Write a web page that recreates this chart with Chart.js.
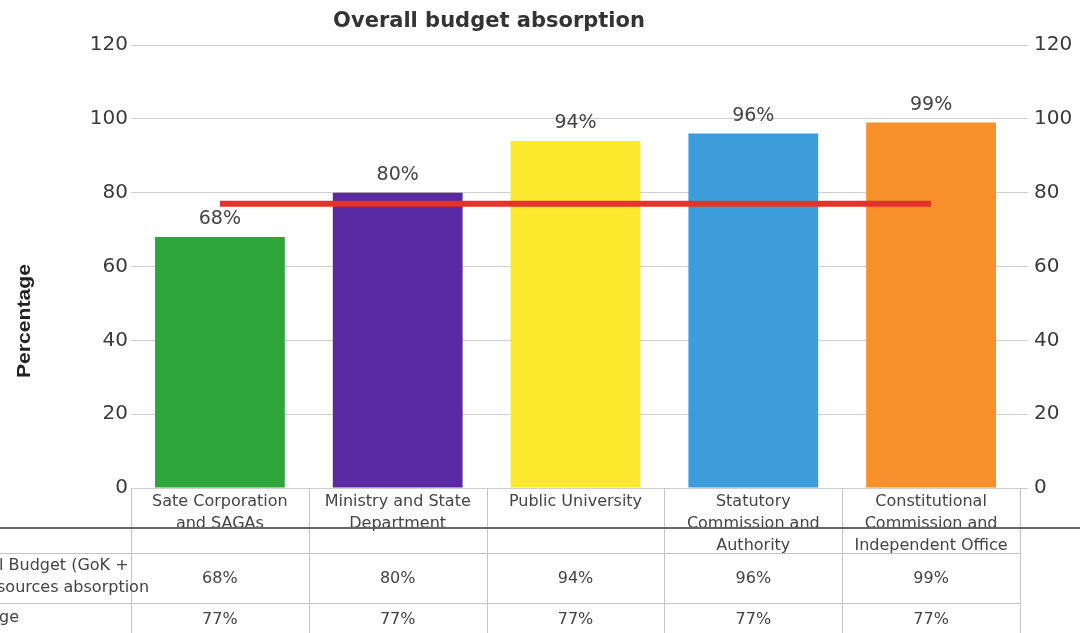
<!DOCTYPE html>
<html>
<head>
<meta charset="utf-8">
<title>Overall budget absorption</title>
<script src="https://cdn.jsdelivr.net/npm/chart.js@4/dist/chart.umd.min.js"></script>
<style>
  html, body { margin: 0; padding: 0; background: #fff; }
  #wrap { width: 1080px; height: 633px; position: relative; }
</style>
</head>
<body>
<div id="wrap"><canvas id="myChart" width="1080" height="633"></canvas></div>
<script>
// categories (table header, one entry per line)
var categories = [
    ['Sate Corporation', 'and SAGAs'],
    ['Ministry and State', 'Department'],
    ['Public University'],
    ['Statutory', 'Commission and', 'Authority'],
    ['Constitutional', 'Commission and', 'Independent Office']
];
// budget absorption per category, %
var absorption = [68, 80, 94, 96, 99];
// overall average, %
var average = [77, 77, 77, 77, 77];
// axis
var yTicks = [0, 20, 40, 60, 80, 100, 120];
// row captions of the data table (left part is cut off on the page)
var rowLabels = [['l Budget (GoK +', 'sources absorption'], ['ge']];

var barColors = ['#2fa63a', '#5a2aa3', '#fde92e', '#3d9ddb', '#f7902a'];

var FONT = '"DejaVu Sans", Arial, sans-serif';

var ctx = document.getElementById('myChart').getContext('2d');

var tablePlugin = {
    id: 'tablePlugin',
    afterDatasetsDraw: function(chart) {
        var c = chart.ctx;
        var meta = chart.getDatasetMeta(1);
        c.save();
        c.fillStyle = '#444';
        c.font = '19px ' + FONT;
        c.textAlign = 'center';
        c.textBaseline = 'alphabetic';
        meta.data.forEach(function(bar, i) {
            c.fillText(absorption[i] + '%', bar.x, bar.y - 13);
        });
        c.restore();
    },
    afterDraw: function(chart) {
        var c = chart.ctx;
        var xs = chart.scales.x;
        var ys = chart.scales.y;
        var half = (xs.getPixelForValue(1) - xs.getPixelForValue(0)) / 2;
        var left = xs.getPixelForValue(0) - half;
        var right = xs.getPixelForValue(categories.length - 1) + half;
        var top = ys.getPixelForValue(0);
        c.save();

        // title
        c.fillStyle = '#333';
        c.font = 'bold 21px ' + FONT;
        c.textAlign = 'center';
        c.textBaseline = 'middle';
        c.fillText('Overall budget absorption', 489, 22);

        // y axis title, narrow bold
        c.save();
        c.translate(25, 321);
        c.rotate(-Math.PI / 2);
        c.font = 'bold 19px "Liberation Sans", Arial, sans-serif';
        var w = c.measureText('Percentage').width;
        c.scale(114 / w, 1);
        c.fillStyle = '#222';
        c.fillText('Percentage', 0, 0);
        c.restore();

        // table grid
        c.strokeStyle = '#c4c4c4';
        c.lineWidth = 1;
        c.beginPath();
        for (var i = 0; i <= categories.length; i++) {
            var x = Math.round(left + i * half * 2) + 0.5;
            c.moveTo(x, top);
            c.lineTo(x, 633);
        }
        c.moveTo(0, 553.5); c.lineTo(right, 553.5);
        c.moveTo(0, 603.5); c.lineTo(right, 603.5);
        c.stroke();

        // header labels
        c.fillStyle = '#444';
        c.font = '16px ' + FONT;
        c.textBaseline = 'middle';
        categories.forEach(function(lines, i) {
            var cx = xs.getPixelForValue(i);
            lines.forEach(function(t, j) {
                c.fillText(t, cx, 502 + j * 22);
            });
        });

        // value rows
        absorption.forEach(function(v, i) {
            c.fillText(v + '%', xs.getPixelForValue(i), 579);
        });
        average.forEach(function(v, i) {
            c.fillText(v + '%', xs.getPixelForValue(i), 620);
        });

        // row captions
        c.textAlign = 'left';
        c.fillText(rowLabels[0][0], -1, 566);
        c.fillText(rowLabels[0][1], -3, 588);
        c.fillText(rowLabels[1][0], -1, 618);

        // dark rule crossing the header
        c.strokeStyle = '#666';
        c.lineWidth = 2;
        c.beginPath();
        c.moveTo(0, 528);
        c.lineTo(1080, 528);
        c.stroke();
        c.restore();
    }
};

var graphData = {
    type: 'bar',
    data: {
        labels: categories,
        datasets: [{
            type: 'line',
            label: 'Average',
            data: average,
            borderColor: '#e4332a',
            borderWidth: 6,
            pointRadius: 0,
            order: 0
        }, {
            label: 'Budget absorption',
            data: absorption,
            backgroundColor: barColors,
            barPercentage: 0.73,
            categoryPercentage: 1,
            order: 1
        }]
    },
    options: {
        responsive: false,
        animation: false,
        layout: { padding: { left: 0, right: 0, top: 45, bottom: 145 } },
        plugins: {
            legend: { display: false },
            tooltip: { enabled: false }
        },
        scales: {
            x: { display: false },
            y: {
                position: 'left',
                min: 0, max: 120,
                afterBuildTicks: function(s) { s.ticks = yTicks.map(function(v) { return { value: v }; }); },
                afterFit: function(s) { s.width = 131; },
                border: { display: false },
                grid: { color: '#cfcfcf', drawTicks: false },
                ticks: { color: '#3a3a3a', padding: 3, font: { size: 20, family: FONT } }
            },
            y2: {
                position: 'right',
                min: 0, max: 120,
                afterBuildTicks: function(s) { s.ticks = yTicks.map(function(v) { return { value: v }; }); },
                afterFit: function(s) { s.width = 60; },
                border: { display: false },
                grid: { drawOnChartArea: false, color: '#cfcfcf', tickLength: 8 },
                ticks: { color: '#3a3a3a', padding: 6, font: { size: 20, family: FONT } }
            }
        }
    },
    plugins: [tablePlugin]
};

var myChart = new Chart(ctx, graphData);
</script>
</body>
</html>
